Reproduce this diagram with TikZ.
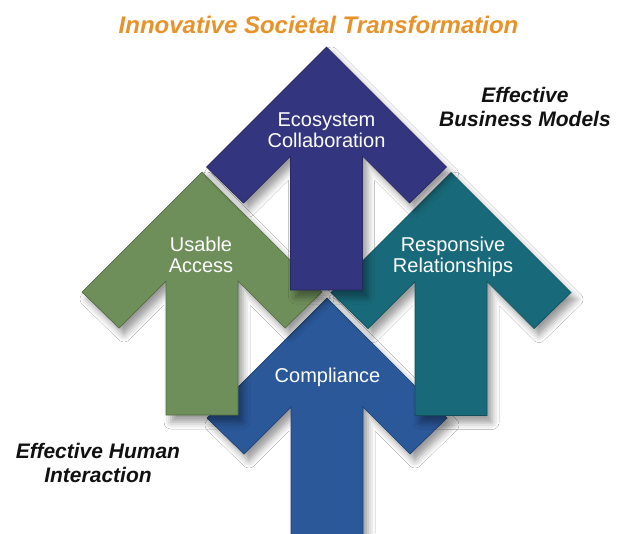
\documentclass[tikz,border=0pt]{standalone}
\usepackage{fontspec}
\setmainfont{Liberation Sans}
\usetikzlibrary{shadows.blur}
\definecolor{ecocol}{HTML}{33357F}
\definecolor{usecol}{HTML}{6F8F5A}
\definecolor{rescol}{HTML}{186A7A}
\definecolor{comcol}{HTML}{2A5899}
\definecolor{titlecol}{HTML}{E8922A}
\definecolor{labcol}{HTML}{111111}
% #1 = tip x, #2 = tip y, #3 = shaft length below inner corners, #4 = style
\newcommand\drawuparrow[4]{%
  \path[#4] (#1,#2) -- ++(120,120) -- ++(-37,36) -- ++(-47,-47) -- ++(0,#3)
    -- ++(-72,0) -- ++(0,-#3) -- ++(-47,47) -- ++(-37,-36) -- cycle;}
\tikzset{
  arrowbody/.style={line width=0.7pt, line join=miter,
    blur shadow={shadow xshift=5pt, shadow yshift=-7pt, shadow blur radius=7pt, shadow opacity=40}},
  arrowtext/.style={text=white, align=center, inner sep=0pt,
    font=\fontsize{20}{20.5}\selectfont},
  sidetext/.style={text=labcol, align=center, inner sep=0pt,
    font=\bfseries\itshape\fontsize{21}{24.5}\selectfont},
}
\begin{document}
\begin{tikzpicture}[x=1pt,y=-1pt]
\useasboundingbox (0,0) rectangle (626,533);
\clip (0,0) rectangle (626,533);
\fill[white] (0,0) rectangle (626,533);
% arrows, back to front
\drawuparrow{327}{298}{140}{arrowbody, fill=comcol, draw=comcol!75!black}
\drawuparrow{202}{172}{134}{arrowbody, fill=usecol, draw=usecol!75!black}
\drawuparrow{451}{172.5}{134}{arrowbody, fill=rescol, draw=rescol!75!black}
\drawuparrow{326.5}{47}{134}{arrowbody, fill=ecocol, draw=ecocol!75!black}
% arrow labels
\node[arrowtext] (eco) at (326.5,130) {Ecosystem\\Collaboration};
\node[arrowtext] (use) at (201,255) {Usable\\Access};
\node[arrowtext] (res) at (453,257) {Responsive\\Relationships};
\node[arrowtext, anchor=base] (com) at (327.5,382) {Compliance};
% side labels
\node[text=titlecol, inner sep=0pt, anchor=base,
  font=\bfseries\itshape\fontsize{24}{28}\selectfont] (title) at (318.5,33)
  {Innovative Societal Transformation};
\node[sidetext] (biz) at (525,107) {Effective\\Business Models};
\node[sidetext] (hum) at (98,463) {Effective Human\\Interaction};
\end{tikzpicture}
\end{document}
